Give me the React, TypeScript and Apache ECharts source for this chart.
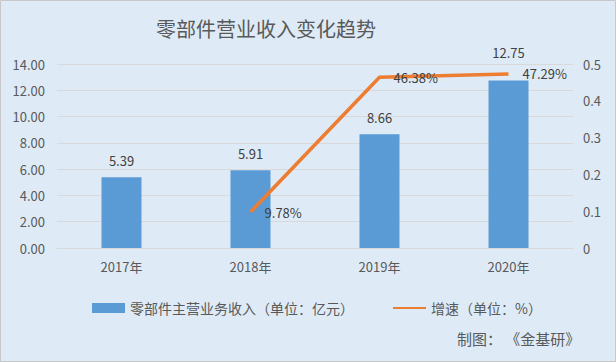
import React, { useEffect, useRef } from "react";
import * as echarts from "echarts";

const categories = ["2017年", "2018年", "2019年", "2020年"];
const revenue = [5.39, 5.91, 8.66, 12.75];
const growth: (number | null)[] = [null, 0.0978, 0.4638, 0.4729];
const leftTicks = { min: 0, max: 14, interval: 2 };
const rightTicks = { min: 0, max: 0.5, interval: 0.1 };
const titleText = "零部件营业收入变化趋势";
const barName = "零部件主营业务收入（单位：亿元）";
const lineName = "增速（单位：%）";
const sourceText = "制图： 《金基研》";

const FONT = "'Noto Sans CJK SC', 'Noto Sans', sans-serif";
const TXT = "#595959";

export default function App() {
  const ref = useRef<HTMLDivElement>(null);
  useEffect(() => {
    if (!ref.current) return;
    const chart = echarts.init(ref.current, null, { renderer: "svg" });
    chart.setOption({
      animation: false,
      backgroundColor: "#DEEBF7",
      textStyle: { fontFamily: FONT },
      title: {
        text: titleText,
        left: 151,
        top: 13,
        textStyle: { fontSize: 20, fontWeight: "normal", color: TXT, fontFamily: FONT },
      },
      graphic: [
        {
          type: "rect",
          shape: { x: 0.5, y: 0.5, width: 615, height: 361 },
          style: { fill: "none", stroke: "#C8C8C8", lineWidth: 1 },
          silent: true,
        },
        {
          type: "text",
          left: 457,
          top: 331,
          style: { text: sourceText, fontSize: 15, fill: TXT, fontFamily: FONT },
        },
      ],
      legend: {
        left: 87,
        top: 296,
        itemWidth: 33,
        itemHeight: 10,
        itemGap: 38,
        textStyle: { fontSize: 14, color: TXT, fontFamily: FONT },
        data: [
          { name: barName, icon: "rect" },
          { name: lineName, itemStyle: { opacity: 0 } },
        ],
      },
      grid: { left: 57, right: 43, top: 64, bottom: 114 },
      xAxis: {
        type: "category",
        data: categories,
        axisTick: { show: false },
        axisLine: { lineStyle: { color: "#D9D9D9" } },
        axisLabel: { color: TXT, fontSize: 13, margin: 12, fontFamily: FONT },
      },
      yAxis: [
        {
          type: "value",
          ...leftTicks,
          axisLabel: {
            color: TXT,
            fontSize: 13,
            margin: 12,
            fontFamily: FONT,
            formatter: (v: number) => v.toFixed(2),
          },
          axisLine: { show: false },
          axisTick: { show: false },
          splitLine: { lineStyle: { color: "#D9D9D9" } },
        },
        {
          type: "value",
          ...rightTicks,
          axisLabel: {
            color: TXT,
            fontSize: 13,
            margin: 10,
            fontFamily: FONT,
            formatter: (v: number) => String(+v.toFixed(1)),
          },
          axisLine: { show: false },
          axisTick: { show: false },
          splitLine: { show: false },
        },
      ],
      series: [
        {
          name: barName,
          type: "bar",
          barWidth: 40,
          itemStyle: { color: "#5B9BD5" },
          label: {
            show: true,
            position: "top",
            distance: 10,
            color: "#404040",
            fontSize: 13,
            fontFamily: FONT,
            formatter: (p: any) => Number(p.value).toFixed(2),
          },
          data: revenue.map((v, i) =>
            i === revenue.length - 1 ? { value: v, label: { distance: 21 } } : v
          ),
        },
        {
          name: lineName,
          type: "line",
          yAxisIndex: 1,
          symbol: "circle",
          symbolSize: 0.1,
          showSymbol: true,
          lineStyle: { color: "#ED7D31", width: 3.5 },
          itemStyle: { color: "#ED7D31" },
          label: {
            show: true,
            position: "right",
            distance: 14,
            color: "#404040",
            fontSize: 13,
            fontFamily: FONT,
            formatter: (p: any) => (p.value * 100).toFixed(2) + "%",
          },
          data: growth,
        },
      ],
    });
    return () => chart.dispose();
  }, []);
  return (
    <div
      ref={ref}
      style={{ position: "fixed", left: 0, top: 0, width: 616, height: 362 }}
    />
  );
}
